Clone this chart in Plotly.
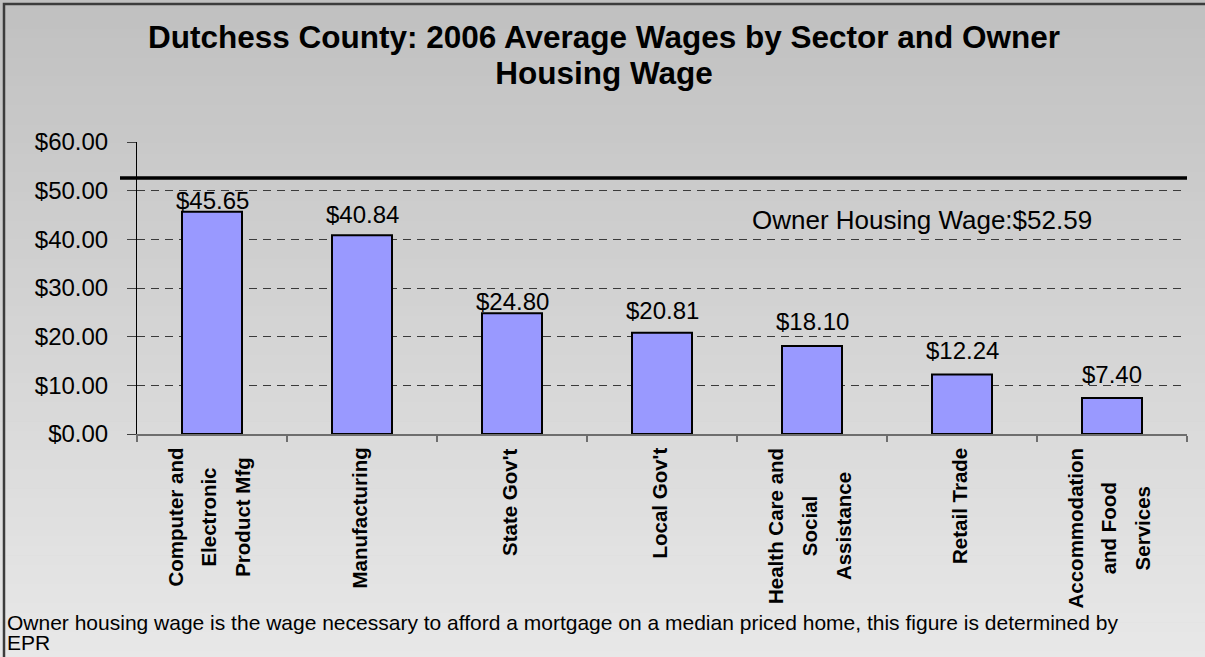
import plotly.graph_objects as go

# ---------------- data ----------------
categories = [
    "Computer and<br>Electronic<br>Product Mfg",
    "Manufacturing",
    "State Gov't",
    "Local Gov't",
    "Health Care and<br>Social<br>Assistance",
    "Retail Trade",
    "Accommodation<br>and Food<br>Services",
]
wages = [45.65, 40.84, 24.80, 20.81, 18.10, 12.24, 7.40]
owner_housing_wage = 52.59
y_ticks = [0, 10, 20, 30, 40, 50, 60]

title_lines = ["Dutchess County: 2006 Average Wages by Sector and Owner", "Housing Wage"]
owner_label = "Owner Housing Wage:$52.59"
note_lines = [
    "Owner housing wage is the wage necessary to afford a mortgage on a median priced home, this figure is determined by",
    "EPR",
]

# ---------------- layout geometry (pixels) ----------------
FW, FH = 1205, 657
L, R, T, B = 137, 1187, 142, 434
PW, PH = R - L, B - T
FONT = "Liberation Sans, Arial, sans-serif"


def xp(px):
    return (px - L) / PW


def yp(py):
    return (B - py) / PH


def spaced(lines, px):
    """Join lines, each rendered at font size px (outer font size sets line spacing)."""
    return "<br>".join(f"<span style='font-size:{px}px'>{ln}</span>" for ln in lines)


cat_keys = [c.replace("<br>", " ") for c in categories]

fig = go.Figure()
fig.add_trace(go.Bar(
    x=cat_keys, y=wages, width=0.4,
    marker=dict(color="#9999FF", line=dict(color="#000000", width=2)),
    hoverinfo="x+y",
))

shapes = []
# background gradient (vertical)
n_strips = 70
strip_h = 670 / n_strips
for i in range(n_strips):
    y0 = i * strip_h
    y1 = y0 + strip_h + 0.6
    t = min(1.0, (y0 + strip_h / 2) / FH)
    g = int(round(192 + (232 - 192) * t))
    col = f"rgb({g},{g},{g})"
    shapes.append(dict(type="rect", xref="paper", yref="paper",
                       x0=xp(-5), x1=xp(FW + 5), y0=yp(y1), y1=yp(y0),
                       fillcolor=col, line=dict(width=0), layer="below"))
# frame
shapes.append(dict(type="rect", xref="paper", yref="paper",
                   x0=xp(4), x1=xp(FW + 10), y0=yp(FH + 10), y1=yp(4),
                   line=dict(color="#3c3c3c", width=2.5), fillcolor="rgba(0,0,0,0)",
                   layer="above"))
# owner housing wage line
shapes.append(dict(type="line", xref="paper", yref="y",
                   x0=xp(120), x1=1.0, y0=owner_housing_wage, y1=owner_housing_wage,
                   line=dict(color="#000000", width=3.5), layer="above"))

annotations = []
# title
annotations.append(dict(x=xp(604), y=yp(18), xref="paper", yref="paper",
                        text=spaced(title_lines, 31.5), showarrow=False,
                        xanchor="center", yanchor="top", align="center", borderpad=0,
                        font=dict(family=FONT, size=28, color="#000000", weight="bold")))

# value labels above bars (vertical offset in px, per bar as placed in the original)
label_gap = [11, 21, 12, 22, 24, 24, 23.5]
for k, v, gap in zip(cat_keys, wages, label_gap):
    annotations.append(dict(x=k, y=v, xref="x", yref="y", text=f"${v:.2f}",
                            showarrow=False, yanchor="middle", yshift=gap,
                            font=dict(family=FONT, size=24, color="#000000")))

# category labels (rotated, centred lines, wide line spacing)
for k, c in zip(cat_keys, categories):
    lines = c.split("<br>")
    annotations.append(dict(x=k, y=yp(447), xref="x", yref="paper", text=spaced(lines, 20.5),
                            showarrow=False, textangle=-90, align="center",
                            xanchor="center", yanchor="top", xshift=-3, borderpad=0,
                            font=dict(family=FONT, size=26, color="#000000", weight="bold")))

# owner housing wage label
annotations.append(dict(x=xp(922), y=yp(220), xref="paper", yref="paper", text=owner_label,
                        showarrow=False, xanchor="center", yanchor="middle",
                        font=dict(family=FONT, size=26, color="#000000")))

# footnote
annotations.append(dict(x=xp(6), y=yp(610), xref="paper", yref="paper",
                        text=spaced(note_lines, 21), showarrow=False,
                        xanchor="left", yanchor="top", align="left", borderpad=0,
                        font=dict(family=FONT, size=15, color="#000000")))

fig.update_layout(
    width=FW, height=FH, autosize=False,
    margin=dict(l=L, r=FW - R, t=T, b=FH - B, pad=0),
    paper_bgcolor="#c8c8c8",
    plot_bgcolor="rgba(0,0,0,0)",
    showlegend=False,
    bargap=0.6,
    shapes=shapes,
    annotations=annotations,
    xaxis=dict(
        type="category", categoryorder="array", categoryarray=cat_keys,
        range=[-0.5, len(cat_keys) - 0.5],
        showticklabels=False, showgrid=False, zeroline=False,
        showline=True, linecolor="#6e6e6e", linewidth=2,
        ticks="outside", tickson="boundaries", ticklen=6, tickcolor="#6e6e6e", tickwidth=1.5,
    ),
    yaxis=dict(
        range=[0, 60], tickvals=y_ticks, tickformat="$.2f",
        showgrid=True, gridcolor="#3a3a3a", gridwidth=1, griddash="8px,6px",
        zeroline=False, showline=True, linecolor="#000000", linewidth=1,
        ticks="outside", ticklen=9, tickcolor="#404040", tickwidth=1,
        ticklabelstandoff=14,
        tickfont=dict(family=FONT, size=24, color="#000000"),
    ),
)

fig.write_html("out.html", config={"displayModeBar": False},
               post_script="document.body.style.margin='0';document.body.style.overflow='hidden';")
